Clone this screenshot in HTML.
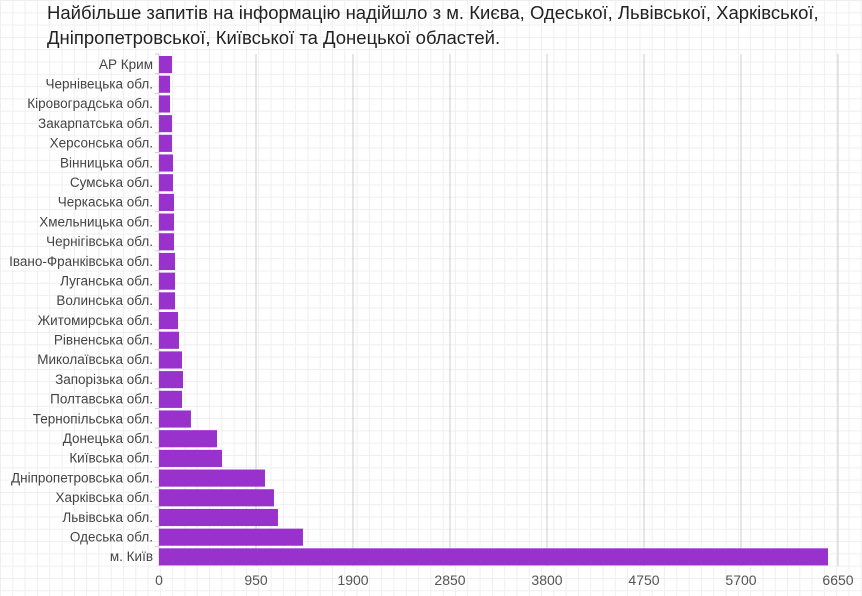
<!DOCTYPE html>
<html><head><meta charset="utf-8"><style>
body{margin:0;width:862px;height:596px;overflow:hidden;background-color:#fff;
background-image:linear-gradient(#efefef 1px,transparent 1px),linear-gradient(90deg,#efefef 1px,transparent 1px);background-size:12.3px 12.3px;
font-family:"Liberation Sans",sans-serif;}
#title{position:absolute;left:47px;top:0;font-size:18.5px;line-height:25px;color:#222;margin:0}
svg{position:absolute;left:0;top:0}
</style></head><body>
<div id="title">Найбільше запитів на інформацію надійшло з м. Києва, Одеської, Львівської, Харківської,<br>Дніпропетровської, Київської та Донецької областей.</div>
<svg id="chart" width="862" height="596"></svg>
<script>
const categories=["АР Крим","Чернівецька обл.","Кіровоградська обл.","Закарпатська обл.","Херсонська обл.","Вінницька обл.","Сумська обл.","Черкаська обл.","Хмельницька обл.","Чернігівська обл.","Івано-Франківська обл.","Луганська обл.","Волинська обл.","Житомирська обл.","Рівненська обл.","Миколаївська обл.","Запорізька обл.","Полтавська обл.","Тернопільська обл.","Донецька обл.","Київська обл.","Дніпропетровська обл.","Харківська обл.","Львівська обл.","Одеська обл.","м. Київ"];
const values=[127,108,108,127,127,137,137,147,147,147,157,157,157,186,196,225,235,225,313,568,617,1038,1126,1165,1410,6552];
const ticks=[0,950,1900,2850,3800,4750,5700,6650];
const NS="http://www.w3.org/2000/svg";
const svg=document.getElementById('chart');
const x0=159,xMax=6650,xPx=679,top0=54,bot=566;
const xs=v=>x0+v/xMax*xPx;
const step=(bot-top0)/categories.length;
const ys=i=>top0+i*step;
function mk(t,a){const e=document.createElementNS(NS,t);for(const k in a)e.setAttribute(k,a[k]);svg.appendChild(e);return e;}
ticks.forEach(t=>{
  if(t>0){const l=mk('line',{x1:xs(t),x2:xs(t),y1:top0,y2:bot,stroke:'#ccc','stroke-width':1});
  
  }
  const tx=mk('text',{x:xs(t),y:bot+19,'text-anchor':'middle','font-size':14,fill:'#555'});
  tx.textContent=t;
  
  
});
const ax=mk('line',{x1:x0,x2:x0,y1:top0,y2:bot,stroke:'#ccc'});


categories.forEach((c,i)=>{
  const r=mk('rect',{x:x0,y:ys(i)+2,width:xs(values[i])-x0,height:step*0.87,fill:'#9932cc'});
  
  
  const tk=mk('line',{x1:x0-4,x2:x0,y1:ys(i),y2:ys(i),stroke:'#ccc'});
  
  
  const t=mk('text',{x:x0-6,y:ys(i)+step/2+5,'text-anchor':'end','font-size':13.5,fill:'#444'});
  t.textContent=c;
  
  
});
</script>
</body></html>
